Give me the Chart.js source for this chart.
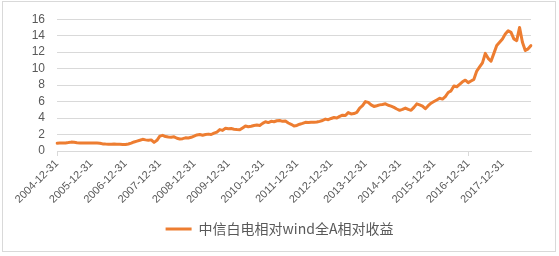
<!DOCTYPE html>
<html>
<head>
<meta charset="utf-8">
<script src="https://cdn.jsdelivr.net/npm/chart.js@4/dist/chart.umd.min.js"></script>
<style>
  html, body { margin: 0; padding: 0; background: #fff; }
  #wrap { position: relative; width: 559px; height: 256px; }
</style>
</head>
<body>
<div id="wrap"><canvas id="c" width="559" height="256"></canvas></div>
<script>
// ---- data ----
const seriesName = '中信白电相对wind全A相对收益';
const startYear = 2004, startMonth = 12; // first category: 2004-12-31, monthly to 2018-10
const yTicks = [0, 2, 4, 6, 8, 10, 12, 14, 16];
const tickLabels = ['2004-12-31','2005-12-31','2006-12-31','2007-12-31','2008-12-31','2009-12-31',
  '2010-12-31','2011-12-31','2012-12-31','2013-12-31','2014-12-31','2015-12-31','2016-12-31','2017-12-31'];
const values = [
  // 2004-12 .. 2005-11
  0.95, 0.97, 0.96, 0.98, 1.02, 1.08, 1.05, 1.00, 0.98, 0.97, 0.98, 0.97,
  // 2005-12 .. 2006-11
  0.98, 0.97, 0.96, 0.95, 0.86, 0.84, 0.83, 0.83, 0.84, 0.83, 0.82, 0.80,
  // 2006-12 .. 2007-11
  0.78, 0.85, 0.95, 1.10, 1.20, 1.30, 1.42, 1.35, 1.30, 1.35, 1.05, 1.30,
  // 2007-12 .. 2008-11
  1.80, 1.90, 1.75, 1.70, 1.66, 1.72, 1.55, 1.46, 1.50, 1.60, 1.58, 1.66,
  // 2008-12 .. 2009-11
  1.80, 1.95, 2.00, 1.92, 2.00, 2.05, 2.00, 2.17, 2.30, 2.60, 2.50, 2.76,
  // 2009-12 .. 2010-11
  2.70, 2.72, 2.65, 2.60, 2.57, 2.80, 3.04, 2.95, 3.00, 3.10, 3.16, 3.10,
  // 2010-12 .. 2011-11
  3.35, 3.55, 3.45, 3.60, 3.55, 3.67, 3.70, 3.60, 3.63, 3.40, 3.24, 3.04,
  // 2011-12 .. 2012-11
  3.10, 3.25, 3.35, 3.48, 3.45, 3.50, 3.48, 3.52, 3.60, 3.70, 3.87, 3.80,
  // 2012-12 .. 2013-11
  3.95, 4.07, 4.00, 4.20, 4.35, 4.30, 4.66, 4.50, 4.55, 4.70, 5.21, 5.50,
  // 2013-12 .. 2014-11
  6.00, 5.90, 5.60, 5.41, 5.50, 5.60, 5.65, 5.73, 5.55, 5.45, 5.30, 5.10,
  // 2014-12 .. 2015-11
  4.94, 5.05, 5.21, 5.05, 4.94, 5.30, 5.72, 5.60, 5.45, 5.13, 5.50, 5.80,
  // 2015-12 .. 2016-11
  6.00, 6.20, 6.40, 6.30, 6.60, 7.10, 7.30, 7.90, 7.80, 8.10, 8.40, 8.60,
  // 2016-12 .. 2017-11
  8.30, 8.50, 8.70, 9.70, 10.20, 10.70, 11.85, 11.25, 10.90, 11.85, 12.80, 13.20,
  // 2017-12 .. 2018-10
  13.60, 14.20, 14.60, 14.40, 13.60, 13.40, 15.00, 13.20, 12.20, 12.40, 12.80
];

// month-end category labels
function monthEnd(y, m) {
  const d = new Date(Date.UTC(y, m, 0)).getUTCDate();
  return y + '-' + String(m).padStart(2, '0') + '-' + String(d).padStart(2, '0');
}
const categories = values.map((_, i) => {
  const t = startMonth - 1 + i;
  return monthEnd(startYear + Math.floor(t / 12), (t % 12) + 1);
});

const ORANGE = '#ED7D31';
const GRID = '#D9D9D9';
const TEXT = '#595959';

const framePlugin = {
  id: 'frame',
  beforeDraw(chart) {
    const ctx = chart.ctx;
    ctx.save();
    ctx.fillStyle = '#fff';
    ctx.fillRect(0, 0, chart.width, chart.height);
    ctx.strokeStyle = GRID;
    ctx.lineWidth = 1;
    ctx.strokeRect(2.5, 1.5, 553, 250);
    ctx.restore();
  }
};

new Chart(document.getElementById('c'), {
  type: 'line',
  data: {
    labels: categories,
    datasets: [{
      label: seriesName,
      data: values,
      borderColor: ORANGE,
      backgroundColor: ORANGE,
      borderWidth: 3,
      pointRadius: 0,
      tension: 0,
      borderJoinStyle: 'round',
      borderCapStyle: 'round',
      yAxisID: 'y'
    }]
  },
  options: {
    responsive: false,
    animation: false,
    devicePixelRatio: 1,
    layout: { padding: { left: 0, right: 0, top: 11, bottom: 10 } },
    plugins: {
      tooltip: { enabled: false },
      legend: {
        position: 'bottom',
        labels: {
          boxWidth: 26,
          boxHeight: 3,
          padding: 10,
          color: TEXT,
          font: { family: '"Noto Sans CJK SC", "Noto Sans", sans-serif', size: 14 },
          generateLabels(chart) {
            const items = Chart.defaults.plugins.legend.labels.generateLabels(chart);
            items.forEach(it => { it.lineWidth = 0; it.fillStyle = ORANGE; it.strokeStyle = ORANGE; });
            return items;
          }
        }
      }
    },
    scales: {
      x: {
        type: 'category',
        offset: false,
        afterFit(scale) { scale.height = 61; },
        border: { display: true, color: GRID, width: 1 },
        grid: {
          display: true,
          drawOnChartArea: false,
          drawTicks: true,
          tickLength: 5,
          color(ctx) {
            const lbl = categories[ctx.index];
            return tickLabels.includes(lbl) ? GRID : 'rgba(0,0,0,0)';
          }
        },
        ticks: {
          autoSkip: false,
          minRotation: 45,
          maxRotation: 45,
          padding: 1,
          color: TEXT,
          font: { family: '"Liberation Sans", Arial, sans-serif', size: 11 },
          callback(val, idx) {
            const lbl = categories[idx];
            return tickLabels.includes(lbl) ? lbl : null;
          }
        }
      },
      y: {
        position: 'left',
        min: yTicks[0],
        max: yTicks[yTicks.length - 1],
        afterFit(scale) { scale.width = 57; },
        afterBuildTicks(scale) { scale.ticks = yTicks.map(v => ({ value: v })); },
        border: { display: false },
        grid: { color: GRID, drawTicks: false, lineWidth: 1 },
        ticks: {
          autoSkip: false,
          stepSize: 2,
          padding: 12,
          color: TEXT,
          font: { family: '"Liberation Sans", Arial, sans-serif', size: 12 }
        }
      },
      yR: {
        position: 'right',
        min: 0, max: 16,
        afterFit(scale) { scale.width = 28; },
        border: { display: false },
        grid: { display: false, drawTicks: false },
        ticks: { display: false }
      }
    }
  },
  plugins: [framePlugin]
});
</script>
</body>
</html>
